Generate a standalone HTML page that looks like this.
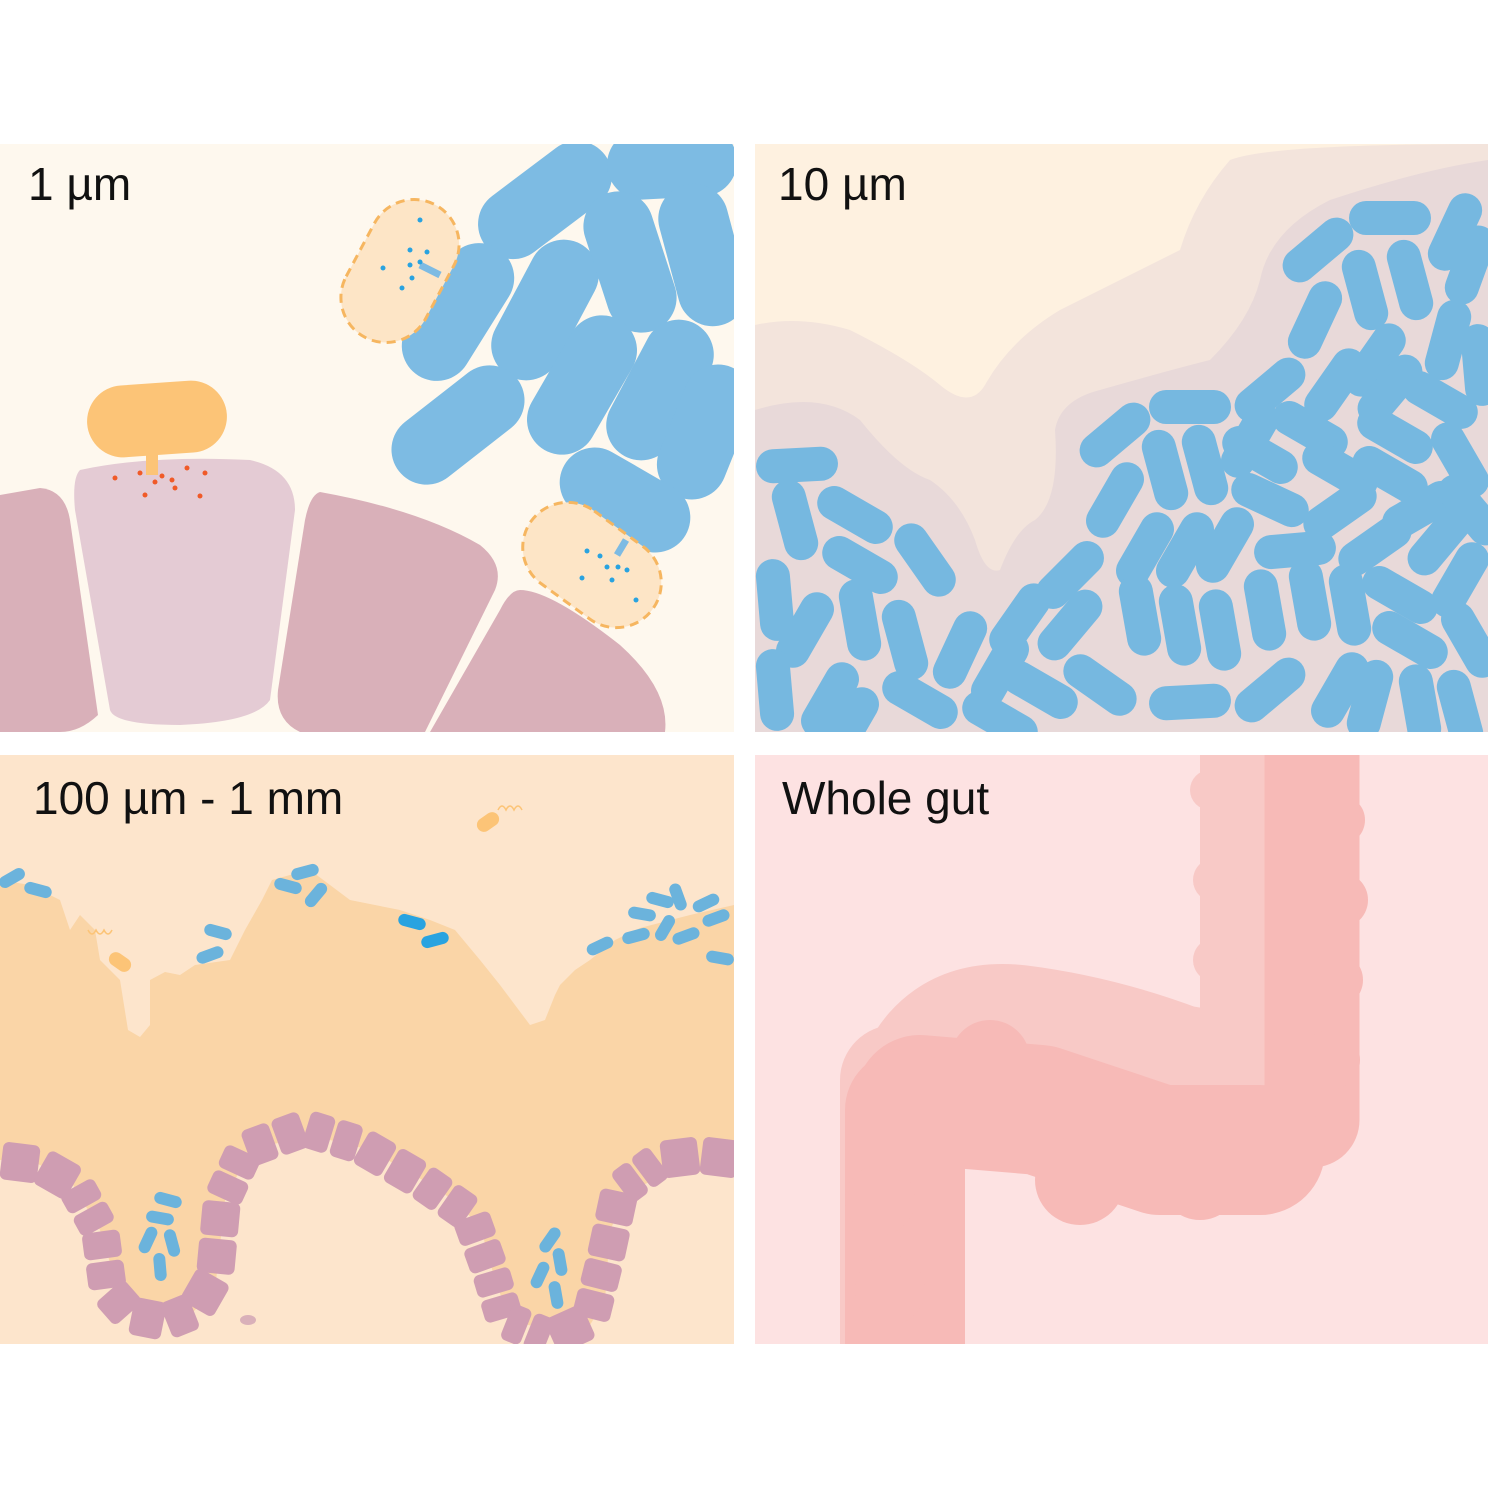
<!DOCTYPE html>
<html><head><meta charset="utf-8">
<style>
html,body{margin:0;padding:0;background:#fff;}
svg{display:block;}
text{font-family:"Liberation Sans",sans-serif;font-size:46px;fill:#111;}
</style></head>
<body>
<svg id="s" width="1488" height="1488" viewBox="0 0 1488 1488" xmlns="http://www.w3.org/2000/svg">
<defs>
<clipPath id="c1"><rect x="0" y="144" width="734" height="588"/></clipPath>
<clipPath id="c2"><rect x="755" y="144" width="733" height="588"/></clipPath>
<clipPath id="c3"><rect x="0" y="755" width="734" height="589"/></clipPath>
<clipPath id="c4"><rect x="755" y="755" width="733" height="589"/></clipPath>
</defs>
<rect width="1488" height="1488" fill="#fff"/>

<!-- Panel 1 -->
<g id="p1" clip-path="url(#c1)">
<rect x="0" y="144" width="734" height="588" fill="#fef8ee"/>
<path d="M0,495 L40,488 Q65,490 70,520 L98,715 Q80,732 60,732 L0,732 Z" fill="#d9b0b9"/>
<path d="M80,470 Q150,455 250,460 Q295,470 295,510 L270,700 Q255,722 180,725 Q115,725 110,710 L75,510 Q72,478 80,470 Z" fill="#e4cbd4"/>
<path d="M320,492 Q420,510 480,545 Q505,565 495,590 L425,732 L300,732 Q275,720 278,690 L305,520 Q310,495 320,492 Z" fill="#d9b0b9"/>
<path d="M520,590 Q550,590 620,645 Q670,690 665,732 L430,732 L500,610 Q510,590 520,590 Z" fill="#d9b0b9"/>
<rect x="146" y="440" width="12" height="35" fill="#fcc477"/>
<rect x="87" y="383" width="140" height="72" rx="36" transform="rotate(-4 157 419)" fill="#fcc477"/>
<g fill="#f05a28">
<circle cx="115" cy="478" r="2.5"/><circle cx="140" cy="473" r="2.5"/><circle cx="155" cy="482" r="2.5"/><circle cx="172" cy="480" r="2.5"/><circle cx="187" cy="468" r="2.5"/><circle cx="205" cy="473" r="2.5"/><circle cx="145" cy="495" r="2.5"/><circle cx="162" cy="476" r="2.5"/><circle cx="175" cy="488" r="2.5"/><circle cx="200" cy="496" r="2.5"/></g>
<g id="rods1"></g>
<rect x="325" y="226" width="150" height="90" rx="45" transform="rotate(-62 400 271)" fill="#fde5c6" stroke="#f6b660" stroke-width="3" stroke-dasharray="9 6"/>
<rect x="517" y="520" width="150" height="90" rx="45" transform="rotate(36 592 565)" fill="#fde5c6" stroke="#f6b660" stroke-width="3" stroke-dasharray="9 6"/>
<line x1="420" y1="265" x2="440" y2="275" stroke="#7dbbe3" stroke-width="7"/>
<line x1="617" y1="555" x2="626" y2="540" stroke="#7dbbe3" stroke-width="7"/>
<g fill="#29a3e0">
<circle cx="420" cy="220" r="2.5"/><circle cx="410" cy="250" r="2.5"/><circle cx="427" cy="252" r="2.5"/><circle cx="383" cy="268" r="2.5"/><circle cx="410" cy="265" r="2.5"/><circle cx="420" cy="262" r="2.5"/><circle cx="412" cy="278" r="2.5"/><circle cx="402" cy="288" r="2.5"/>
<circle cx="587" cy="551" r="2.5"/><circle cx="600" cy="556" r="2.5"/><circle cx="607" cy="567" r="2.5"/><circle cx="618" cy="567" r="2.5"/><circle cx="627" cy="570" r="2.5"/><circle cx="582" cy="578" r="2.5"/><circle cx="612" cy="580" r="2.5"/><circle cx="636" cy="600" r="2.5"/></g>
<text x="28" y="200">1 µm</text>
</g>

<!-- Panel 2 -->
<g id="p2" clip-path="url(#c2)">
<rect x="755" y="144" width="733" height="588" fill="#fef1e0"/>
<path d="M755,325 Q800,315 850,330 Q910,360 940,385 Q970,410 985,385 Q1010,340 1060,310 Q1140,270 1180,250 Q1195,200 1230,160 Q1270,144 1488,144 L1488,732 L755,732 Z" fill="#f3e4dc"/>
<path d="M755,410 Q820,390 860,420 Q900,470 930,480 Q960,500 975,540 Q985,575 1000,570 Q1015,530 1035,520 Q1060,500 1055,430 Q1060,400 1100,390 Q1170,370 1210,360 Q1250,320 1260,280 Q1270,230 1330,200 Q1420,170 1488,160 L1488,732 L755,732 Z" fill="#e8d9d9"/>
<g id="rods2"></g>
<text x="778" y="200">10 µm</text>
</g>

<!-- Panel 3 -->
<g id="p3" clip-path="url(#c3)">
<rect x="0" y="755" width="734" height="589" fill="#fde5cc"/>
<path d="M0,880 L30,885 L60,900 L70,930 L80,915 L95,930 L100,960 L120,980 L128,1030 L140,1037 L150,1025 L150,980 L165,972 L180,975 L195,965 L230,960 L245,930 L262,900 L272,880 L290,875 L310,870 L330,885 L350,900 L375,905 L400,910 L430,920 L455,930 L480,960 L500,985 L515,1005 L530,1025 L545,1020 L555,995 L560,985 L575,970 L590,960 L615,940 L640,928 L690,915 L734,905 L734,1175 L680,1170 L630,1190 L610,1230 L605,1300 L590,1325 L555,1332 L510,1320 L495,1280 L480,1225 L440,1190 L370,1150 L310,1135 L250,1150 L225,1200 L215,1290 L190,1315 L160,1315 L120,1295 L100,1230 L70,1180 L30,1160 L0,1160 Z" fill="#fad5a7"/>
<g id="cells3"></g>
<g id="rods3"></g>
<rect x="476" y="815" width="24" height="14" rx="7" transform="rotate(-35 488 822)" fill="#fcc477"/>
<rect x="108" y="955" width="24" height="14" rx="7" transform="rotate(35 120 962)" fill="#fcc477"/>
<path d="M498,810 q4,-8 8,0 q4,-8 8,0 q4,-8 8,0" fill="none" stroke="#fcc477" stroke-width="1.5"/>
<path d="M88,930 q4,8 8,0 q4,8 8,0 q4,8 8,0" fill="none" stroke="#fcc477" stroke-width="1.5"/>
<ellipse cx="248" cy="1320" rx="8" ry="5" fill="#d9b0b9"/>
<text x="33" y="814">100 µm - 1 mm</text>
</g>

<!-- Panel 4 -->
<g id="p4" clip-path="url(#c4)">
<rect x="755" y="755" width="733" height="589" fill="#fde2e2"/>
<g fill="none" stroke="#f8c9c6" stroke-linejoin="round" stroke-linecap="round">
<path d="M1240,755 L1240,1060" stroke-width="80"/>
<path d="M905,1100 Q930,1010 1020,1020 Q1100,1030 1180,1060 L1240,1070" stroke-width="110"/>
<path d="M895,1080 L895,1344" stroke-width="110"/>
</g>
<g fill="none" stroke="#f7bab7" stroke-linejoin="round" stroke-linecap="round">
<path d="M1312,755 L1312,1120" stroke-width="95"/>
<path d="M920,1100 L1040,1110 L1160,1150 L1260,1150" stroke-width="130"/>
<path d="M905,1110 L905,1344" stroke-width="120"/>
</g>
<g fill="#f7bab7">
<circle cx="1340" cy="820" r="25"/><circle cx="1340" cy="900" r="28"/><circle cx="1335" cy="980" r="28"/><circle cx="1330" cy="1060" r="30"/>
<circle cx="1080" cy="1180" r="45"/><circle cx="1200" cy="1180" r="40"/><circle cx="880" cy="1200" r="35"/><circle cx="890" cy="1290" r="35"/><circle cx="990" cy="1060" r="40"/></g>
<g fill="#f8c9c6"><circle cx="1210" cy="790" r="20"/><circle cx="1215" cy="880" r="22"/><circle cx="1215" cy="960" r="22"/></g>
<text x="782" y="814">Whole gut</text>
</g>
</svg>
<script>
var NS="http://www.w3.org/2000/svg";
function rod(g,cx,cy,len,w,ang,fill,name,rx){
  var r=document.createElementNS(NS,"rect");
  r.setAttribute("x",cx-len/2);r.setAttribute("y",cy-w/2);
  r.setAttribute("width",len);r.setAttribute("height",w);r.setAttribute("rx",rx===undefined?w/2:rx);
  r.setAttribute("fill",fill);
  r.setAttribute("transform","rotate("+ang+" "+cx+" "+cy+")");
  
  
  g.appendChild(r);
}
var rods1=[[545,200,150,-37],[672,163,130,-3],[458,312,150,-58],[545,310,150,-62],[630,262,145,72],[703,255,145,75],[458,425,150,-38],[582,385,150,-60],[660,390,150,-62],[705,432,140,-68],[625,500,140,30]];
var g1=document.getElementById("rods1");
rods1.forEach(function(r){rod(g1,r[0],r[1],r[2],70,r[3],"#7dbbe3",'blue-bacterium');});
var rods2=[[1318,250,-40],[1390,218,0],[1455,232,-65],[1365,290,75],[1410,280,75],[1470,265,-70],[1315,320,-65],[1375,360,-55],[1448,340,-75],[1480,365,85],[1270,390,-40],[1335,385,-55],[1390,390,-50],[1440,400,30],[1190,407,0],[1115,435,-40],[1250,440,-60],[1310,430,30],[1395,435,30],[1460,460,60],[1165,470,75],[1205,465,75],[1260,455,30],[1340,470,30],[1390,475,30],[1115,500,-60],[1270,500,25],[1340,510,-35],[1420,510,-30],[1470,510,50],[1145,550,-60],[1185,550,-60],[1225,545,-60],[1295,550,-5],[1375,545,-35],[1440,540,-50],[1070,575,-45],[1140,615,80],[1180,625,80],[1220,630,80],[1265,610,80],[1310,600,80],[1350,605,80],[1400,595,30],[1460,580,-60],[1020,620,-55],[1070,625,-50],[960,650,-65],[1000,670,-60],[1100,685,35],[1040,690,30],[1190,702,-3],[1270,690,-40],[1340,690,-60],[1410,640,30],[1470,640,60],[1370,700,-75],[1420,705,80],[1460,710,75],[1000,720,30],[920,700,30],[860,620,80],[905,640,75],[805,630,-60],[775,600,85],[830,700,-60],[775,690,85],[795,520,75],[855,515,30],[860,565,30],[925,560,55],[797,465,-3],[850,725,-60]];
var g2=document.getElementById("rods2");
rods2.forEach(function(r){rod(g2,r[0],r[1],82,34,r[2],"#76b8e0",'blue-bacterium');});
var curve=[[0,1160],[40,1165],[75,1185],[100,1230],[108,1290],[130,1315],[165,1322],[195,1310],[215,1275],[222,1200],[245,1150],[305,1128],[360,1145],[420,1180],[470,1215],[490,1270],[505,1320],[550,1338],[590,1320],[605,1260],[620,1190],[660,1160],[700,1155],[740,1160]];
var g3=document.getElementById("cells3");
for(var i=0;i<curve.length-1;i++){
  var a=curve[i],b=curve[i+1];var dx=b[0]-a[0],dy=b[1]-a[1];var L=Math.sqrt(dx*dx+dy*dy);
  var n=Math.max(1,Math.round(L/32));var ang=Math.atan2(dy,dx)*180/Math.PI;
  for(var k=0;k<n;k++){var t=(k+0.5)/n;rod(g3,a[0]+dx*t,a[1]+dy*t,L/n-3,38,ang,"#cf9db2",'epithelial-cell',6);}
}
var rods3=[[12,878,-30],[38,890,15],[218,932,15],[210,955,-20],[288,886,15],[305,872,-15],[316,895,-50],[412,922,15],[435,940,-15],[600,946,-25],[636,936,-15],[642,914,10],[660,900,15],[678,897,70],[665,928,-60],[686,936,-20],[706,903,-25],[716,918,-20],[720,958,10],[168,1200,15],[160,1218,10],[148,1240,-65],[172,1243,75],[160,1267,85],[550,1240,-55],[560,1262,80],[540,1275,-65],[556,1295,80]];
var g4=document.getElementById("rods3");
rods3.forEach(function(r){rod(g4,r[0],r[1],28,12,r[2],(r[0]>400&&r[0]<450)?"#29a3e0":"#6bb3dc",'blue-bacterium');});
</script>
</body></html>
